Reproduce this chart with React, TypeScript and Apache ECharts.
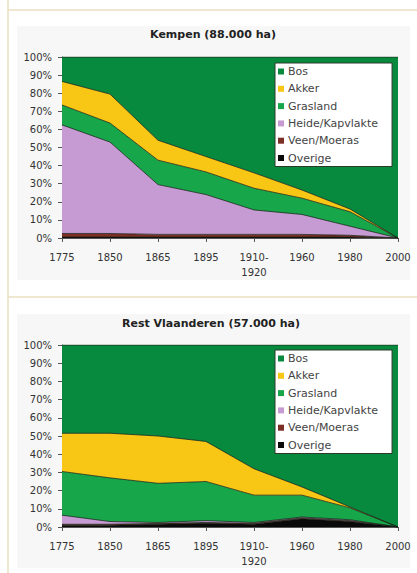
import React, { useEffect, useRef } from "react";
import * as echarts from "echarts";

const years = ["1775", "1850", "1865", "1895", "1910-\n1920", "1960", "1980", "2000"];
const yTicks = [0, 10, 20, 30, 40, 50, 60, 70, 80, 90, 100];
const legendNames = ["Bos", "Akker", "Grasland", "Heide/Kapvlakte", "Veen/Moeras", "Overige"];

const titleKempen = "Kempen (88.000 ha)";
const titleRest = "Rest Vlaanderen (57.000 ha)";

// Kempen (values in %, bottom to top)
const kOverige = [0.5, 0.5, 0.5, 0.5, 0.5, 0.5, 0.5, 0];
const kVeen = [2, 2, 1.5, 1.5, 1.5, 1.5, 1, 0];
const kHeide = [60, 50.5, 27.5, 22, 13.5, 11, 5, 0];
const kGrasland = [11, 10.5, 13.5, 12.5, 12, 9, 8, 0];
const kAkker = [13, 16, 11, 8.5, 8.5, 4.5, 1.5, 0];
const kBos = [13.5, 20.5, 46, 55, 64, 73.5, 84, 100];

// Rest Vlaanderen
const rOverige = [1, 1, 1.5, 2, 1.5, 4.5, 3, 0];
const rVeen = [0.5, 0.5, 0.5, 0.5, 0.5, 0.5, 0.5, 0];
const rHeide = [5, 1.5, 0.5, 1, 0.5, 0.5, 0.5, 0];
const rGrasland = [24, 24, 21.5, 21.5, 15, 12, 6.5, 0];
const rAkker = [21, 24.5, 26, 22, 14.5, 4.5, 0.5, 0];
const rBos = [48.5, 48.5, 50, 53, 68, 78, 89, 100];

const colors: Record<string, string> = {
  Bos: "#088a3e",
  Akker: "#f8c614",
  Grasland: "#17a74a",
  "Heide/Kapvlakte": "#c69ad2",
  "Veen/Moeras": "#7b2f25",
  Overige: "#0a0a0a",
};

const FONT = "DejaVu Sans";

function makeSeries(idx: number, data: Record<string, number[]>) {
  const order = ["Overige", "Veen/Moeras", "Heide/Kapvlakte", "Grasland", "Akker", "Bos"];
  return order.map((name) => ({
    name,
    type: "line",
    xAxisIndex: idx,
    yAxisIndex: idx,
    stack: "s" + idx,
    data: data[name],
    showSymbol: false,
    symbol: "none",
    color: colors[name],
    lineStyle: { color: "rgba(20,30,20,0.75)", width: 1 },
    areaStyle: { color: colors[name], opacity: 1 },
  }));
}

export default function App() {
  const ref = useRef<HTMLDivElement>(null);
  useEffect(() => {
    if (!ref.current) return;
    const chart = echarts.init(ref.current, undefined, { renderer: "svg" });
    const axisText = { fontFamily: FONT, fontSize: 10, color: "#333" };
    const xAxis = (gi: number) => ({
      type: "category",
      gridIndex: gi,
      data: years,
      boundaryGap: false,
      axisLine: { show: true, lineStyle: { color: "#555", width: 1 } },
      axisTick: { show: true, interval: 0, length: 4, lineStyle: { color: "#555" } },
      axisLabel: { ...axisText, interval: 0, margin: 12, lineHeight: 15 },
      splitLine: { show: false },
    });
    const yAxis = (gi: number) => ({
      type: "value",
      gridIndex: gi,
      min: 0,
      max: 100,
      interval: 10,
      axisLine: { show: true, lineStyle: { color: "#555", width: 1 } },
      axisTick: { show: true, length: 4, lineStyle: { color: "#555" } },
      axisLabel: { ...axisText, margin: 10, formatter: (v: number) => (yTicks.includes(v) ? v + "%" : "") },
      splitLine: { show: false },
    });
    const legend = (top: number) => ({
      orient: "vertical",
      left: 275,
      top,
      data: legendNames.map((n) => ({ name: n, itemStyle: { color: colors[n], borderWidth: 0 } })),
      icon: "rect",
      itemWidth: 6,
      itemHeight: 6,
      itemGap: 6.3,
      padding: [3, 14, 3, 3],
      backgroundColor: "#ffffff",
      borderColor: "#2a3a2a",
      borderWidth: 1,
      textStyle: { fontFamily: FONT, fontSize: 11, color: "#444", lineHeight: 10, padding: [0, 0, 0, -1] },
      selectedMode: false,
      z: 10,
    });
    chart.setOption({
      animation: false,
      backgroundColor: "#ffffff",
      title: [
        {
          text: titleKempen,
          left: 208,
          textAlign: "center",
          top: 24,
          textStyle: { fontFamily: FONT, fontSize: 11, fontWeight: "bold", color: "#222" },
        },
        {
          text: titleRest,
          left: 206,
          textAlign: "center",
          top: 313,
          textStyle: { fontFamily: FONT, fontSize: 11, fontWeight: "bold", color: "#222" },
        },
      ],
      graphic: [
        { type: "rect", z: -5, shape: { x: 17, y: 26, width: 393, height: 254 }, style: { fill: "#f7f7f7" } },
        { type: "rect", z: -5, shape: { x: 17, y: 314, width: 393, height: 254 }, style: { fill: "#f7f7f7" } },
        { type: "line", z: -4, shape: { x1: 8, y1: 0, x2: 8, y2: 573 }, style: { stroke: "#eadfbf", lineWidth: 1.5 } },
        { type: "line", z: -4, shape: { x1: 8, y1: 10, x2: 417, y2: 10 }, style: { stroke: "#eadfbf", lineWidth: 1.5 } },
        { type: "line", z: -4, shape: { x1: 8, y1: 297, x2: 417, y2: 297 }, style: { stroke: "#eadfbf", lineWidth: 1.5 } },
      ],
      legend: [legend(63), legend(350)],
      grid: [
        { left: 62, top: 57, width: 336, height: 181, containLabel: false },
        { left: 62, top: 345, width: 336, height: 182, containLabel: false },
      ],
      xAxis: [xAxis(0), xAxis(1)],
      yAxis: [yAxis(0), yAxis(1)],
      series: [
        ...makeSeries(0, {
          Overige: kOverige,
          "Veen/Moeras": kVeen,
          "Heide/Kapvlakte": kHeide,
          Grasland: kGrasland,
          Akker: kAkker,
          Bos: kBos,
        }),
        ...makeSeries(1, {
          Overige: rOverige,
          "Veen/Moeras": rVeen,
          "Heide/Kapvlakte": rHeide,
          Grasland: rGrasland,
          Akker: rAkker,
          Bos: rBos,
        }),
      ],
    });
    return () => chart.dispose();
  }, []);
  return (
    <div
      ref={ref}
      style={{ position: "fixed", left: 0, top: 0, width: 417, height: 573, background: "#fff" }}
    />
  );
}
